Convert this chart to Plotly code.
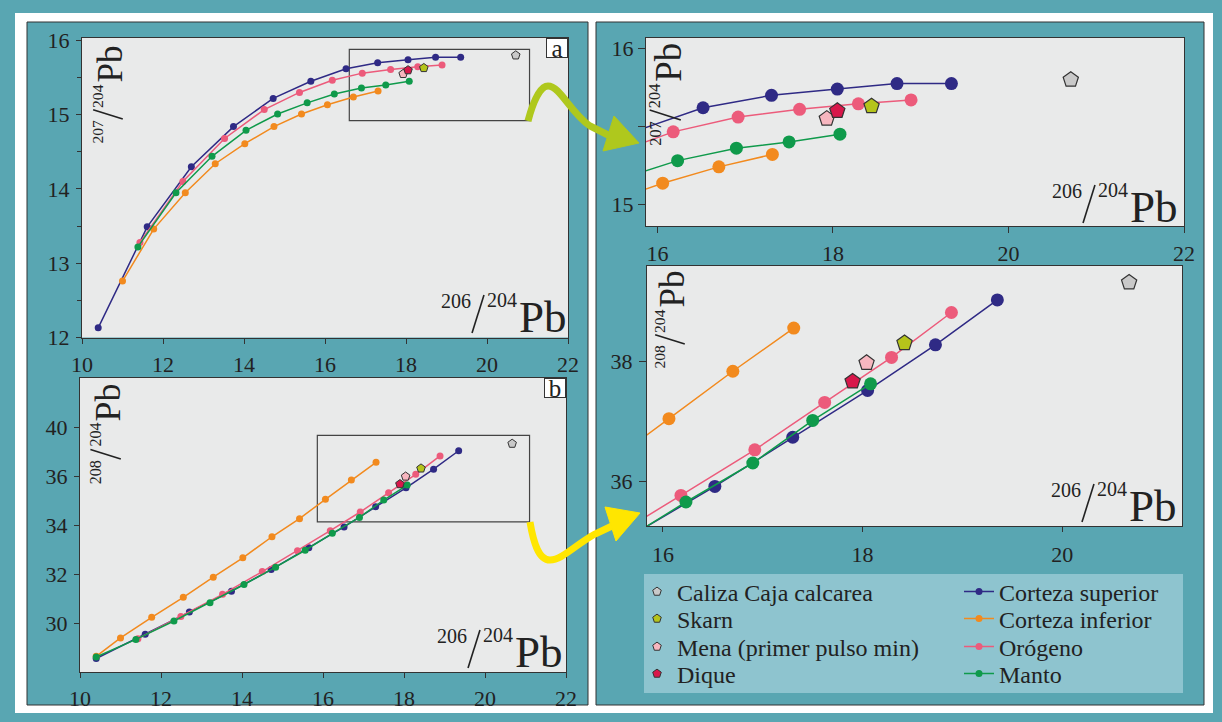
import plotly.graph_objects as go

W, H = 1222, 722
SERIF = "Liberation Serif"
INK = "#222222"
TEAL = "#59a6b2"
PLOT_BG = "#e9eaea"


def fx(x):
    return x / W


def fy(y):
    return 1 - y / H


# ---------------- data ----------------
# Evolution curves (plumbotectonics): 206Pb/204Pb, 207Pb/204Pb, 208Pb/204Pb
cs_206 = [10.40, 11.61, 12.70, 13.74, 14.72, 15.65, 16.52, 17.30, 18.05, 18.73, 19.35]
cs_207 = [12.13, 13.49, 14.30, 14.84, 15.22, 15.45, 15.62, 15.70, 15.74, 15.775, 15.775]
cs_208 = [30.55, 31.54, 32.45, 33.30, 34.18, 35.07, 35.92, 36.74, 37.52, 38.28, 39.03]

ci_206 = [10.40, 11.00, 11.77, 12.55, 13.29, 14.02, 14.74, 15.42, 16.06, 16.70, 17.31]
ci_207 = [None, 12.76, 13.46, 13.95, 14.34, 14.61, 14.84, 15.01, 15.135, 15.24, 15.32]
ci_208 = [30.64, 31.39, 32.23, 33.05, 33.87, 34.66, 35.52, 36.26, 37.05, 37.84, 38.56]

or_206 = [11.43, 12.49, 13.52, 14.50, 15.37, 16.18, 16.92, 17.62, 18.29, 18.89]
or_207 = [13.28, 14.10, 14.68, 15.07, 15.30, 15.465, 15.56, 15.61, 15.645, 15.67]
or_208 = [31.36, 32.27, 33.17, 34.10, 34.95, 35.77, 36.53, 37.32, 38.07, 38.82]

ma_206 = [10.40, 11.38, 12.32, 13.21, 14.05, 14.83, 15.56, 16.23, 16.90, 17.50, 18.08]
ma_207 = [None, 13.22, 13.95, 14.44, 14.79, 15.01, 15.16, 15.28, 15.36, 15.40, 15.45]
ma_208 = [30.61, 31.33, 32.08, 32.83, 33.57, 34.28, 34.97, 35.66, 36.31, 37.02, 37.63]

curve_names = ["Corteza superior", "Corteza inferior", "Orógeno", "Manto"]
curve_colors = ["#2f2a85", "#f28a1e", "#ec5b7b", "#0f9a4b"]

# Samples
sample_names = ["Caliza Caja calcarea", "Skarn", "Mena (primer pulso min)", "Dique"]
sample_colors = ["#c9c9c9", "#b5c41b", "#f7b6bf", "#d8174a"]
sample_206_vs207 = [20.71, 18.44, 17.93, 18.05]
sample_207 = [15.80, 15.63, 15.55, 15.60]
sample_206_vs208 = [20.67, 18.42, 18.04, 17.90]
sample_208 = [39.32, 38.31, 37.98, 37.67]

# Axis ticks
ticks_206_full = [10, 12, 14, 16, 18, 20, 22]
ticks_207_full = [12, 13, 14, 15, 16]
ticks_208_full = [32, 34, 36, 38, 40]
ticktext_208_full = ["30", "32", "34", "36", "40"]
ticks_206_zoom7 = [16, 18, 20, 22]
ticks_207_zoom = [15, 15.5, 16]
ticktext_207_zoom = ["15", "", "16"]
ticks_206_zoom8 = [16, 18, 20]
ticks_208_zoom = [36, 38]

fig = go.Figure()

curve_data = [
    (cs_206, cs_207, cs_208),
    (ci_206, ci_207, ci_208),
    (or_206, or_207, or_208),
    (ma_206, ma_207, ma_208),
]

# panels: (xaxis, yaxis, which ratio, marker size)
panels = [("x", "y", 7, 7), ("x2", "y2", 8, 7), ("x3", "y3", 7, 13), ("x4", "y4", 8, 13)]

for k, (name, color, (d206, d207, d208)) in enumerate(zip(curve_names, curve_colors, curve_data)):
    for j, (xa, ya, which, msize) in enumerate(panels):
        yv = d207 if which == 7 else d208
        fig.add_trace(go.Scatter(
            x=d206, y=yv, xaxis=xa, yaxis=ya, name=name,
            mode="lines+markers",
            line=dict(color=color, width=1.5),
            marker=dict(color=color, size=msize),
            showlegend=(j == 0), legend=f"legend{k + 5}",
            hoverinfo="skip",
        ))

for k, (name, color) in enumerate(zip(sample_names, sample_colors)):
    for j, (xa, ya, which, msize) in enumerate(panels):
        if which == 7:
            xv, yv = [sample_206_vs207[k]], [sample_207[k]]
        else:
            xv, yv = [sample_206_vs208[k]], [sample_208[k]]
        big = msize > 10
        fig.add_trace(go.Scatter(
            x=xv, y=yv, xaxis=xa, yaxis=ya, name=name, mode="markers",
            marker=dict(symbol="pentagon", color=color, size=16 if big else 9,
                        line=dict(color="#333333", width=1.2 if big else 1)),
            showlegend=(j == 0), legend="legend" if k == 0 else f"legend{k + 1}",
            hoverinfo="skip",
        ))

tickfont = dict(family=SERIF, size=22, color=INK)


def axis(**kw):
    base = dict(showline=True, linecolor="#333333", linewidth=1, mirror=True,
                ticks="outside", ticklen=5, tickcolor="#333333", tickwidth=1,
                showgrid=False, zeroline=False, tickfont=tickfont,
                ticklabelstandoff=2, fixedrange=True)
    base.update(kw)
    return base


layout = dict(
    width=W, height=H,
    margin=dict(l=0, r=0, t=0, b=0, autoexpand=False),
    paper_bgcolor=TEAL, plot_bgcolor="rgba(0,0,0,0)",
    xaxis=axis(domain=[fx(82), fx(568)], range=[10, 22], tickvals=ticks_206_full, anchor="y"),
    yaxis=axis(domain=[fy(337.5), fy(37.5)], range=[12, 16.04], tickvals=ticks_207_full, anchor="x",
               minor=dict(dtick=0.5, ticks="outside", ticklen=4, tickcolor="#333333", showgrid=False)),
    xaxis2=axis(domain=[fx(80), fx(566)], range=[10, 22], tickvals=ticks_206_full, anchor="y2"),
    yaxis2=axis(domain=[fy(672), fy(378)], range=[30, 42], tickvals=ticks_208_full,
                ticktext=ticktext_208_full, anchor="x2"),
    xaxis3=axis(domain=[fx(646), fx(1184)], range=[15.87, 22], tickvals=ticks_206_zoom7, anchor="y3",
                ticklen=6),
    yaxis3=axis(domain=[fy(226), fy(37.7)], range=[14.86, 16.07], tickvals=ticks_207_zoom,
                ticktext=ticktext_207_zoom, anchor="x3", ticklen=7, ticklabelstandoff=0),
    xaxis4=axis(domain=[fx(647), fx(1182)], range=[15.84, 21.2], tickvals=ticks_206_zoom8, anchor="y4",
                ticklen=5, ticklabelstandoff=4),
    yaxis4=axis(domain=[fy(526), fy(265.7)], range=[35.26, 39.6], tickvals=ticks_208_zoom, anchor="x4",
                ticklen=7, ticklabelstandoff=2),
    showlegend=True,
)

# one legend per entry so the two columns sit exactly in the key box
legend_rows = [592, 619, 647, 674]
for i in range(8):
    key = "legend" if i == 0 else f"legend{i + 1}"
    col_x = 637 if i < 4 else 959
    layout[key] = dict(x=fx(col_x), y=fy(legend_rows[i % 4]), xanchor="left", yanchor="middle",
                       bgcolor="rgba(0,0,0,0)", borderwidth=0,
                       font=dict(family=SERIF, size=24, color=INK))

shapes = []
# outer white frame and the two teal panels
shapes.append(dict(type="rect", xref="paper", yref="paper", x0=fx(15), x1=fx(1213), y0=fy(713), y1=fy(13),
                   fillcolor="white", line=dict(width=0), layer="below"))
for (l, t, r, b) in [(27, 22, 588, 705), (596, 22, 1204, 705)]:
    shapes.append(dict(type="rect", xref="paper", yref="paper", x0=fx(l), x1=fx(r), y0=fy(b), y1=fy(t),
                       fillcolor=TEAL, line=dict(color="#333333", width=1), layer="below"))
# key box
shapes.append(dict(type="rect", xref="paper", yref="paper", x0=fx(644), x1=fx(1183), y0=fy(693), y1=fy(574),
                   fillcolor="#8ec4cf", line=dict(width=0), layer="below"))
# plot backgrounds
for xa, ya in [("x", "y"), ("x2", "y2"), ("x3", "y3"), ("x4", "y4")]:
    shapes.append(dict(type="rect", xref=f"{xa} domain", yref=f"{ya} domain", x0=0, x1=1, y0=0, y1=1,
                       fillcolor=PLOT_BG, line=dict(width=0), layer="below"))
# enlarged-area frames
shapes.append(dict(type="rect", xref="x", yref="y", x0=16.6, x1=21.05, y0=14.92, y1=15.88,
                   line=dict(color="#444444", width=1.2), layer="below"))
shapes.append(dict(type="rect", xref="x2", yref="y2", x0=15.86, x1=21.1, y0=36.13, y1=39.66,
                   line=dict(color="#444444", width=1.2), layer="below"))


def P(x, y):
    return f"{fx(x):.5f},{fy(y):.5f}"


# arrows linking the framed areas to the enlargements
green = "#afc81d"
yellow = "#ffe600"
shapes.append(dict(type="path", xref="paper", yref="paper",
                   path=f"M {P(528,121)} C {P(533,102)} {P(540,86)} {P(548,86)} "
                        f"C {P(560,86)} {P(570,112)} {P(590,126)} L {P(610,136)}",
                   line=dict(color=green, width=7)))
shapes.append(dict(type="path", xref="paper", yref="paper",
                   path=f"M {P(614,116)} L {P(639,143)} L {P(603,151)} Z",
                   fillcolor=green, line=dict(color=green, width=1)))
shapes.append(dict(type="path", xref="paper", yref="paper",
                   path=f"M {P(530,522)} C {P(533,540)} {P(538,560)} {P(550,560)} "
                        f"C {P(562,560)} {P(575,545)} {P(595,534)} L {P(612,526)}",
                   line=dict(color=yellow, width=7)))
shapes.append(dict(type="path", xref="paper", yref="paper",
                   path=f"M {P(605,507)} L {P(640,513)} L {P(616,541)} Z",
                   fillcolor=yellow, line=dict(color=yellow, width=1)))

annotations = []


def isotope_title(num, ox, oy, s=1.0, vertical=False):
    """Ratio label  num/204 Pb, anchored at the baseline end of 'Pb'."""
    pieces = [(num, -111, -30.75, 20), ("204", -65, -31.75, 20), ("Pb", -24.5, -15, 45)]

    def place(dx, dy):
        dx, dy = dx * s, dy * s
        return (ox + dy, oy - dx) if vertical else (ox + dx, oy + dy)

    for text, dx, dy, size in pieces:
        X, Y = place(dx, dy)
        annotations.append(dict(text=text, x=fx(X), y=fy(Y), xref="paper", yref="paper",
                                showarrow=False, xanchor="center", yanchor="middle",
                                textangle=-90 if vertical else 0,
                                font=dict(family=SERIF, size=size * s, color=INK)))
    x0, y0 = place(-95, 1)
    x1, y1 = place(-83, -37)
    shapes.append(dict(type="line", xref="paper", yref="paper", x0=fx(x0), y0=fy(y0), x1=fx(x1), y1=fy(y1),
                       line=dict(color=INK, width=1.6)))


isotope_title("206", 567, 332)
isotope_title("207", 122, 45, s=0.78, vertical=True)
isotope_title("206", 563, 667)
isotope_title("208", 120, 383, s=0.8, vertical=True)
isotope_title("206", 1178, 222)
isotope_title("207", 680, 42, s=0.82, vertical=True)
isotope_title("206", 1177, 521)
isotope_title("208", 684, 270, s=0.78, vertical=True)

for letter, xa, ya in [("a", "x", "y"), ("b", "x2", "y2")]:
    annotations.append(dict(text=letter, xref=f"{xa} domain", yref=f"{ya} domain", x=1, y=1,
                            xanchor="right", yanchor="top", showarrow=False,
                            bgcolor="white", bordercolor="#333333", borderwidth=1, borderpad=0,
                            width=20, height=18, font=dict(family=SERIF, size=25, color=INK)))

layout["shapes"] = shapes
layout["annotations"] = annotations
fig.update_layout(**layout)

fig.write_html("out.html", config={"displayModeBar": False})
